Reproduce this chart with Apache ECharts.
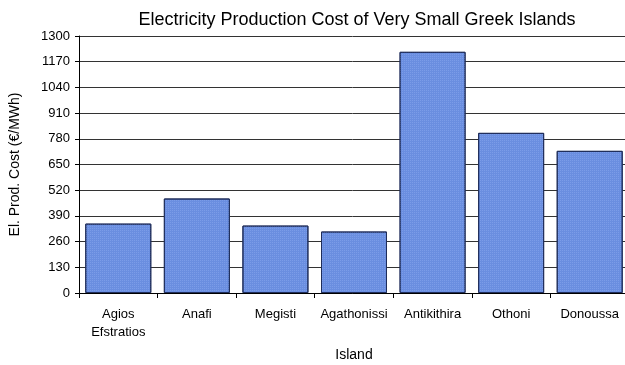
<!DOCTYPE html>
<html>
<head>
<meta charset="utf-8">
<script src="https://cdn.jsdelivr.net/npm/echarts@6/dist/echarts.min.js"></script>
<style>
  html, body { margin: 0; padding: 0; background: #fff; }
  #chart { width: 625px; height: 365px; }
</style>
</head>
<body>
<div id="chart"></div>
<script>
// 数据
const islands = ['Agios\nEfstratios', 'Anafi', 'Megisti', 'Agathonissi', 'Antikithira', 'Othoni', 'Donoussa'];
const costs = [351, 478, 341, 311, 1220, 810, 719];
const yTicks = [0, 130, 260, 390, 520, 650, 780, 910, 1040, 1170, 1300];

const chart = echarts.init(document.getElementById('chart'));
const font = 'Liberation Sans, Arial, sans-serif';

chart.setOption({
  animation: false,
  title: {
    text: 'Electricity Production Cost of Very Small Greek Islands',
    left: 352,
    top: 6,
    textAlign: 'center',
    textStyle: { fontFamily: font, fontSize: 18, fontWeight: 'normal', color: '#000' },
  },
  grid: { left: 79, right: -4, top: 36, bottom: 72, outerBoundsMode: 'none', containLabel: false },
  xAxis: {
    type: 'category',
    data: islands,
    name: 'Island',
    nameLocation: 'middle',
    nameGap: 55,
    nameTextStyle: { fontFamily: font, fontSize: 14, color: '#000' },
    axisLine: { lineStyle: { color: '#000', width: 1 } },
    axisTick: { show: true, length: 5, lineStyle: { color: '#000' } },
    axisLabel: { fontFamily: font, fontSize: 13, color: '#000', margin: 12, lineHeight: 18, interval: 0 },
  },
  yAxis: {
    type: 'value',
    min: yTicks[0],
    max: yTicks[yTicks.length - 1],
    interval: 130,
    name: 'El. Prod. Cost (€/MWh)',
    nameLocation: 'middle',
    nameGap: 57,
    nameTextStyle: { fontFamily: font, fontSize: 14, color: '#000' },
    axisLine: { show: true, lineStyle: { color: '#000', width: 1 } },
    axisTick: { show: true, inside: false, length: 4, lineStyle: { color: '#000' } },
    axisLabel: { fontFamily: font, fontSize: 13, color: '#000', margin: 9, formatter: (v) => String(v) },
    splitLine: { lineStyle: { color: '#333', width: 1 } },
  },
  series: [
    {
      type: 'bar',
      data: costs,
      barCategoryGap: '16%',
      itemStyle: {
        color: '#6a8ee0',
        borderColor: '#1f2d5a',
        borderWidth: 1,
        decal: {
          symbol: 'rect',
          symbolSize: 1,
          dashArrayX: [1, 1],
          dashArrayY: [1, 1],
          color: 'rgba(140,170,240,0.5)',
          rotation: 0,
        },
      },
    },
  ],
});
</script>
</body>
</html>
